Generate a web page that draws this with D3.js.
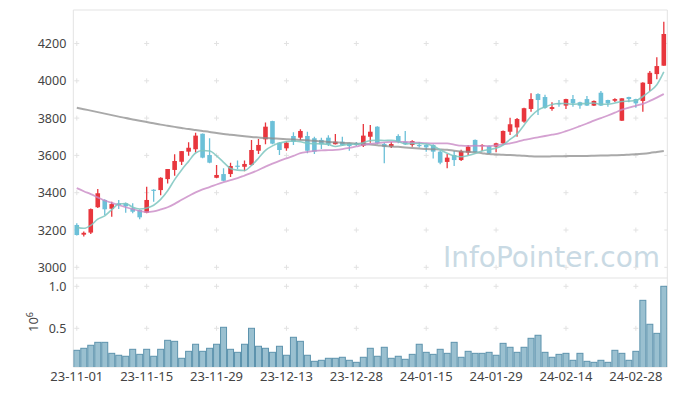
<!DOCTYPE html>
<html>
<head>
<meta charset="utf-8">
<script src="https://cdn.jsdelivr.net/npm/d3@7"></script>
<style>
  body { margin: 0; background: #fff; }
  svg { display: block; font-family: "Noto Sans", sans-serif; }
</style>
</head>
<body>
<div class="chart"></div>
<script>
// trading-day tick labels, one every 10 sessions
let tickLabels = ['23-11-01', '23-11-15', '23-11-29', '23-12-13', '23-12-28',
  '24-01-15', '24-01-29', '24-02-14', '24-02-28'];
let priceTicks = [3000, 3200, 3400, 3600, 3800, 4000, 4200];
let volumeTicks = [0.5e6, 1e6];

let opens = [3227, 3175, 3186, 3322, 3361, 3314, 3343, 3343, 3316, 3307,
  3293, 3416, 3414, 3473, 3522, 3566, 3620, 3633, 3716, 3602,
  3480, 3500, 3500, 3545, 3539, 3549, 3625, 3686, 3784, 3668,
  3638, 3704, 3695, 3704, 3692, 3683, 3695, 3660, 3673, 3665,
  3665, 3652, 3700, 3754, 3661, 3647, 3704, 3673, 3656, 3656,
  3656, 3656, 3620, 3565, 3602, 3575, 3615, 3683, 3650, 3650,
  3647, 3665, 3727, 3750, 3781, 3849, 3929, 3913, 3849, 3880,
  3867, 3902, 3885, 3902, 3867, 3936, 3897, 3893, 3786, 3913,
  3902, 3892, 3983, 4036, 4081];
let highs = [3236, 3192, 3315, 3420, 3365, 3352, 3361, 3348, 3343, 3310,
  3432, 3418, 3483, 3527, 3606, 3623, 3670, 3722, 3718, 3692,
  3549, 3531, 3560, 3572, 3572, 3683, 3688, 3777, 3786, 3670,
  3675, 3724, 3740, 3727, 3700, 3695, 3708, 3715, 3700, 3668,
  3672, 3768, 3763, 3756, 3668, 3672, 3713, 3731, 3681, 3672,
  3660, 3660, 3625, 3607, 3623, 3630, 3656, 3685, 3660, 3654,
  3668, 3734, 3802, 3800, 3855, 3933, 3933, 3925, 3885, 3897,
  3904, 3924, 3888, 3918, 3895, 3945, 3899, 3906, 3906, 3915,
  3904, 3992, 4052, 4126, 4317];
let lows = [3170, 3165, 3178, 3318, 3280, 3271, 3312, 3293, 3290, 3257,
  3290, 3352, 3386, 3450, 3491, 3548, 3598, 3615, 3585, 3558,
  3478, 3462, 3484, 3526, 3515, 3545, 3608, 3660, 3660, 3602,
  3625, 3656, 3683, 3612, 3608, 3634, 3650, 3658, 3650, 3625,
  3650, 3645, 3668, 3660, 3558, 3640, 3665, 3656, 3647, 3643,
  3620, 3584, 3552, 3531, 3543, 3570, 3602, 3615, 3623, 3608,
  3617, 3660, 3709, 3700, 3775, 3834, 3817, 3850, 3840, 3861,
  3849, 3861, 3850, 3865, 3865, 3865, 3861, 3886, 3784, 3885,
  3856, 3834, 3945, 4008, 4081];
let closes = [3173, 3185, 3312, 3397, 3311, 3339, 3334, 3327, 3298, 3268,
  3361, 3412, 3480, 3527, 3570, 3623, 3641, 3706, 3588, 3561,
  3495, 3464, 3543, 3541, 3554, 3629, 3656, 3754, 3663, 3629,
  3668, 3673, 3731, 3625, 3620, 3660, 3660, 3673, 3656, 3650,
  3656, 3706, 3727, 3665, 3647, 3661, 3673, 3660, 3677, 3650,
  3643, 3620, 3561, 3588, 3575, 3623, 3647, 3617, 3656, 3611,
  3665, 3731, 3767, 3795, 3853, 3902, 3897, 3855, 3859, 3876,
  3902, 3879, 3867, 3867, 3892, 3867, 3879, 3902, 3906, 3902,
  3879, 3990, 4043, 4079, 4251];
let volumes = [238, 262, 298, 333, 333, 202, 179, 167, 250, 190,
  250, 167, 250, 357, 345, 143, 226, 310, 226, 262,
  310, 512, 250, 214, 310, 500, 286, 262, 214, 286,
  179, 393, 345, 179, 107, 119, 143, 143, 155, 119,
  95, 155, 262, 167, 274, 143, 167, 131, 190, 310,
  214, 190, 250, 202, 333, 155, 226, 202, 202, 214,
  179, 321, 274, 214, 274, 381, 417, 214, 155, 190,
  202, 119, 202, 107, 95, 119, 95, 238, 202, 119,
  226, 833, 548, 440, 1000].map(v => v * 1000);

let ma5 = [3214, 3209, 3225, 3258, 3276, 3309, 3339, 3342, 3322, 3313,
  3318, 3333, 3364, 3410, 3470, 3522, 3568, 3613, 3626, 3624,
  3598, 3563, 3530, 3521, 3519, 3546, 3585, 3627, 3651, 3666,
  3674, 3677, 3673, 3665, 3663, 3662, 3659, 3648, 3654, 3660,
  3659, 3668, 3679, 3681, 3680, 3681, 3675, 3661, 3664, 3664,
  3661, 3650, 3630, 3612, 3597, 3593, 3599, 3610, 3624, 3631,
  3639, 3656, 3686, 3714, 3762, 3810, 3843, 3860, 3873, 3878,
  3878, 3874, 3877, 3878, 3881, 3874, 3874, 3881, 3889, 3891,
  3894, 3916, 3944, 3979, 4048];
let ma20 = [3425, 3408, 3392, 3375, 3358, 3345, 3334, 3322, 3312, 3302,
  3296, 3300, 3310, 3322, 3340, 3362, 3382, 3402, 3418, 3430,
  3444, 3457, 3468, 3478, 3492, 3506, 3522, 3540, 3556, 3571,
  3584, 3597, 3612, 3619, 3624, 3627, 3628, 3630, 3634, 3640,
  3648, 3657, 3662, 3666, 3670, 3672, 3673, 3672, 3670, 3668,
  3666, 3665, 3665, 3664, 3658, 3652, 3651, 3652, 3651, 3650,
  3654, 3659, 3665, 3673, 3683, 3690, 3697, 3704, 3711, 3718,
  3730, 3743, 3757, 3771, 3786, 3800, 3814, 3829, 3845, 3856,
  3866, 3876, 3892, 3910, 3929];
let ma60 = [3856, 3848, 3840, 3832, 3824, 3816, 3808, 3800, 3793, 3786,
  3779, 3772, 3765, 3759, 3753, 3747, 3741, 3736, 3731, 3726,
  3720, 3715, 3711, 3707, 3703, 3699, 3696, 3693, 3691, 3689,
  3687, 3685, 3683, 3681, 3678, 3675, 3672, 3670, 3668, 3666,
  3664, 3661, 3658, 3655, 3651, 3648, 3646, 3643, 3640, 3637,
  3634, 3633, 3632, 3630, 3625, 3621, 3619, 3617, 3612, 3607,
  3605, 3603, 3602, 3600, 3598, 3595, 3594, 3594, 3595, 3596,
  3596, 3597, 3597, 3597, 3598, 3599, 3600, 3601, 3602, 3604,
  3606, 3609, 3613, 3618, 3623];

let width = 677;
let height = 396;
let plot = {left: 73.3, right: 667.3, top: 10, split: 278, bottom: 367};

let svg = d3.select('.chart')
  .append('svg')
    .attr('width', width)
    .attr('height', height);

let n = closes.length;
let x = d3.scaleBand()
  .domain(d3.range(n))
  .range([plot.left, plot.right]);
let cx = i => x(i) + x.bandwidth() / 2;

let y = d3.scaleLinear()
  .domain([3000, 4200])
  .range([267.3, 43.5]);

let yVol = d3.scaleLinear()
  .domain([0, 1e6])
  .range([370.3, 286.3]);

let tickIdx = tickLabels.map((d, k) => k * 10);

// clip regions for the two panels
let defs = svg.append('defs');
defs.append('clipPath').attr('id', 'clipPrice')
  .append('rect')
    .attr('x', plot.left).attr('y', plot.top)
    .attr('width', plot.right - plot.left).attr('height', plot.split - plot.top);
defs.append('clipPath').attr('id', 'clipVol')
  .append('rect')
    .attr('x', plot.left).attr('y', plot.split)
    .attr('width', plot.right - plot.left).attr('height', plot.bottom - plot.split);

// little "+" markers at grid intersections
function crosses(g, ys) {
  let path = '';
  tickIdx.forEach(i => {
    ys.forEach(v => {
      let px = cx(i), py = v;
      path += `M${px - 2.5},${py}H${px + 2.5}M${px},${py - 2.5}V${py + 2.5}`;
    });
  });
  g.append('path')
    .attr('d', path)
    .style('stroke', '#e2e2e2')
    .style('stroke-width', 1)
    .style('fill', 'none');
}
crosses(svg, priceTicks.map(y));
crosses(svg, volumeTicks.map(yVol));

// right edge tick marks
svg.append('g')
  .selectAll('line')
  .data(priceTicks.map(y).concat(volumeTicks.map(yVol)))
  .join('line')
    .attr('x1', plot.right - 3).attr('x2', plot.right)
    .attr('y1', d => d).attr('y2', d => d)
    .style('stroke', '#e2e2e2');

// frame
svg.append('path')
  .attr('d', `M${plot.left},${plot.top}H${plot.right}V${plot.bottom}H${plot.left}Z` +
    `M${plot.left},${plot.split}H${plot.right}`)
  .style('fill', 'none')
  .style('stroke', '#e3e3e3')
  .style('stroke-width', 1);

// watermark
svg.append('text')
  .attr('x', 443)
  .attr('y', 267)
  .attr('textLength', 217)
  .attr('lengthAdjust', 'spacingAndGlyphs')
  .style('font-family', '"DejaVu Sans", sans-serif')
  .style('font-size', '27.5px')
  .style('fill', '#c9dae4')
  .text('InfoPointer.com');

// candles
let priceG = svg.append('g').attr('clip-path', 'url(#clipPrice)');
let up = '#e8363d';
let down = '#6cc0d8';
let bodyW = 4.6;

let candles = priceG.append('g')
  .selectAll('g')
  .data(d3.range(n))
  .join('g');

candles.append('line')
  .attr('x1', cx).attr('x2', cx)
  .attr('y1', i => y(highs[i]))
  .attr('y2', i => y(lows[i]))
  .style('stroke', i => closes[i] >= opens[i] ? up : down)
  .style('stroke-width', 1.3);

candles.append('rect')
  .attr('x', i => cx(i) - bodyW / 2)
  .attr('width', bodyW)
  .attr('y', i => y(Math.max(opens[i], closes[i])))
  .attr('height', i => Math.max(1.2, Math.abs(y(opens[i]) - y(closes[i]))))
  .style('fill', i => closes[i] >= opens[i] ? up : down);

// moving averages
let line = d3.line()
  .x((d, i) => cx(i))
  .y(d => y(d))
  .curve(d3.curveMonotoneX);

priceG.append('path')
  .attr('d', line(ma60))
  .style('fill', 'none')
  .style('stroke', '#8c8c8c')
  .style('stroke-width', 2)
  .style('opacity', 0.75);

priceG.append('path')
  .attr('d', line(ma20))
  .style('fill', 'none')
  .style('stroke', '#c98ac6')
  .style('stroke-width', 1.8)
  .style('opacity', 0.8);

priceG.append('path')
  .attr('d', line(ma5))
  .style('fill', 'none')
  .style('stroke', '#7cc6c0')
  .style('stroke-width', 1.6)
  .style('opacity', 0.85);

// volume
svg.append('g')
  .attr('clip-path', 'url(#clipVol)')
  .selectAll('rect')
  .data(volumes)
  .join('rect')
    .attr('x', (d, i) => x(i) + 0.5)
    .attr('width', x.bandwidth() - 1)
    .attr('y', d => yVol(d))
    .attr('height', d => yVol(0) - yVol(d))
    .style('fill', '#9ac0d0')
    .style('stroke', '#5d93ad')
    .style('stroke-width', 1);

// axes
let yAxis = d3.axisLeft(y)
  .tickValues(priceTicks)
  .tickFormat(d3.format('d'))
  .tickSize(0)
  .tickPadding(7);
svg.append('g')
  .attr('transform', `translate(${plot.left}, 0)`)
  .call(yAxis)
  .call(g => g.select('.domain').remove());

let volAxis = d3.axisLeft(yVol)
  .tickValues(volumeTicks)
  .tickFormat(d => (d / 1e6).toFixed(1))
  .tickSize(0)
  .tickPadding(7);
svg.append('g')
  .attr('transform', `translate(${plot.left}, 0)`)
  .call(volAxis)
  .call(g => g.select('.domain').remove());

let xAxis = d3.axisBottom(x)
  .tickValues(tickIdx)
  .tickFormat((d, k) => tickLabels[k])
  .tickSize(0)
  .tickPadding(4.5);
let xAxisG = svg.append('g')
  .attr('transform', `translate(0, ${plot.bottom})`)
  .call(xAxis)
  .call(g => g.select('.domain').remove());

svg.selectAll('.tick text')
  .style('font-family', '"Noto Sans", sans-serif')
  .style('font-size', '12.5px')
  .style('fill', '#444');
xAxisG.selectAll('.tick text')
  .style('font-size', '13px');

// 10^6 multiplier label
let mult = svg.append('text')
  .attr('transform', 'translate(38, 332) rotate(-90)')
  .style('font-size', '13px')
  .style('fill', '#444');
mult.append('tspan').text('10');
mult.append('tspan')
  .attr('dy', -5)
  .style('font-size', '9px')
  .text('6');
</script>
</body>
</html>
